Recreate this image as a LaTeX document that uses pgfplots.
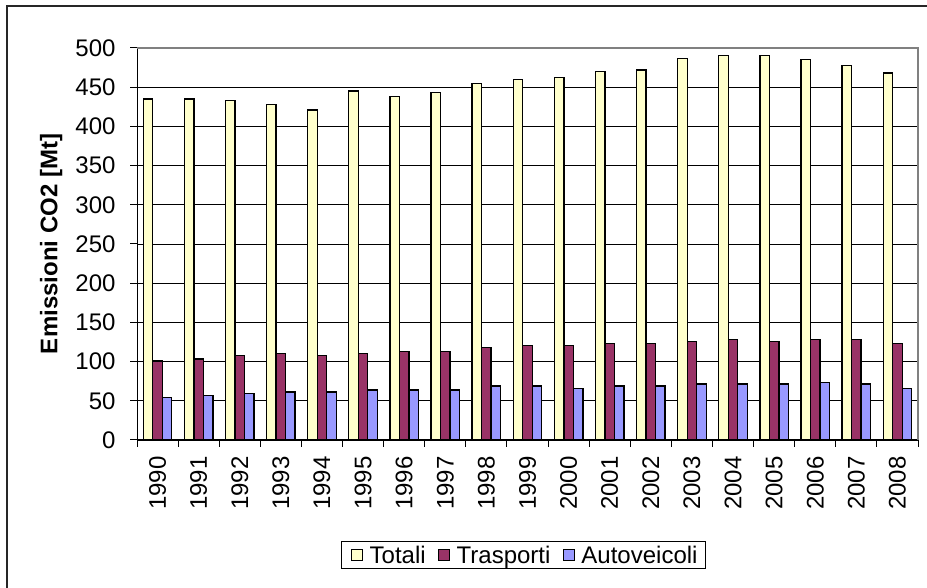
\documentclass[border=0pt]{standalone}
\usepackage{fontspec}
\setmainfont{Liberation Sans}
\usepackage{pgfplots}
\pgfplotsset{compat=1.18}
\definecolor{totali}{HTML}{FFFFCC}
\definecolor{trasporti}{HTML}{993366}
\definecolor{autoveicoli}{HTML}{9999FF}
\newcommand{\fs}{\fontsize{24}{28}\selectfont}
\begin{document}
\begin{tikzpicture}[x=1pt,y=1pt]
\useasboundingbox (0,0) rectangle (927,588);
\draw[line width=1.5pt, black!85] (7,0) -- (7,582) -- (927,582);
\begin{axis}[
  at={(137pt,148pt)}, anchor=south west,
  width=781pt, height=392pt, scale only axis,
  ybar=0pt, bar width=9.5pt,
  xmin=0.5, xmax=19.5, ymin=0, ymax=500,
  axis lines*=left, axis line style={black, line width=1pt},
  ytick={0,50,...,500},
  xtick={0.5,1.5,...,19.5}, xticklabels={},
  extra x ticks={1,2,...,19},
  extra x tick labels={1990,1991,1992,1993,1994,1995,1996,1997,1998,1999,2000,2001,2002,2003,2004,2005,2006,2007,2008},
  extra x tick style={major tick length=0pt, tick label style={rotate=90, anchor=east, font=\fs}},
  xticklabel shift=13pt,
  tick align=outside, major tick length=7pt,
  tick style={black, line width=1pt},
  yticklabel style={font=\fs, xshift=-11pt},
  /pgf/number format/assume math mode=true,
  ymajorgrids, major grid style={black, line width=0.8pt},
  ylabel={Emissioni CO2 [Mt]},
  ylabel style={font=\fs\bfseries, at={(axis description cs:-0.110,0.5)}, anchor=center},
  legend style={at={(0.495,-0.294)}, anchor=center, draw=black, line width=0.8pt,
    font=\fs, legend columns=-1, inner xsep=6pt, inner ysep=2pt},
  sq/.style={legend image code/.code={
    \path[draw=none, fill=none] (-4pt,0) -- (16pt,0);
    \draw[##1, draw=black, line width=1pt] (0pt,-5.5pt) rectangle (11pt,5.5pt);}},
  after end axis/.code={\draw[gray, line width=1.2pt] (rel axis cs:0,1) -- (rel axis cs:1,1) -- (rel axis cs:1,0);},
]
\addplot[fill=totali, draw=black, line width=1.3pt, sq] coordinates {
(1,435)(2,435)(3,433)(4,428)(5,421)(6,445)(7,438)(8,443)(9,455)(10,460)
(11,462)(12,470)(13,472)(14,487)(15,490)(16,490)(17,485)(18,478)(19,468)};
\addplot[fill=trasporti, draw=black, line width=1.3pt, sq] coordinates {
(1,100.8)(2,103.3)(3,108)(4,110.6)(5,108)(6,110.6)(7,112.6)(8,112.6)(9,117.7)(10,120.3)
(11,120.3)(12,122.8)(13,122.8)(14,125.4)(15,127.9)(16,125.4)(17,127.9)(18,127.9)(19,122.8)};
\addplot[fill=autoveicoli, draw=black, line width=1.3pt, sq] coordinates {
(1,54)(2,56.5)(3,59)(4,61.2)(5,61.2)(6,63.8)(7,63.8)(8,63.8)(9,68.9)(10,68.9)
(11,65.9)(12,68.9)(13,68.9)(14,71.4)(15,71.4)(16,71.4)(17,73.6)(18,71.4)(19,65.9)};
\legend{Totali\hspace*{7pt}, Trasporti\hspace*{7pt}, Autoveicoli}
\end{axis}
\end{tikzpicture}
\end{document}
